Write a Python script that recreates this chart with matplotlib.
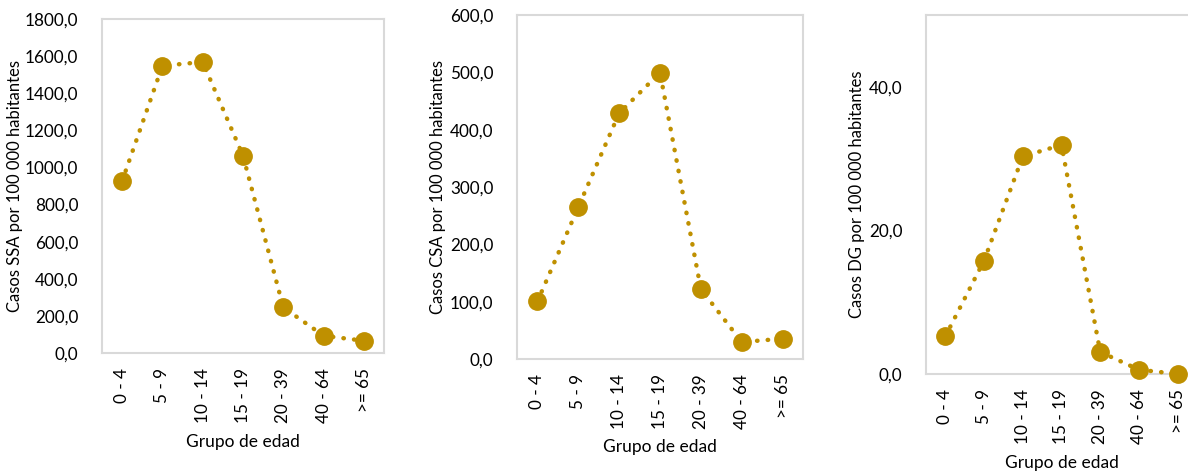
import matplotlib
matplotlib.use("Agg")
import matplotlib.pyplot as plt
from matplotlib.ticker import FuncFormatter, MultipleLocator

plt.rcParams['font.family'] = ['Lato', 'DejaVu Sans']

grupos = ["0 - 4", "5 - 9", "10 - 14", "15 - 19", "20 - 39", "40 - 64", ">= 65"]
ssa = [927, 1548, 1568, 1063, 246, 93, 66]
csa = [100.4, 265, 428.7, 499.5, 122, 29.6, 35.4]
dg = [5.25, 15.8, 30.3, 31.9, 3.07, 0.6, 0.0]

ylabels = ["Casos SSA por 100 000 habitantes",
           "Casos CSA por 100 000 habitantes",
           "Casos DG por 100 000 habitantes"]
ylims = [(0, 1800), (0, 600), (0, 50)]
ysteps = [200, 100, 20]
series = [ssa, csa, dg]

W, H = 1188, 472
# pixel boxes: left, top, right, bottom
boxes = [(102, 19, 384, 353), (517, 15, 803, 359), (926, 15, 1197, 374)]
ylab_x = [15, 438, 857]
xlab_y = [442, 447, 463]

color = "#BF9000"
frame = "#D9D9D9"

fig = plt.figure(figsize=(W / 100, H / 100), dpi=100)
fmt = FuncFormatter(lambda v, p: f"{v:.1f}".replace(".", ","))

for i in range(3):
    l, t, r, b = boxes[i]
    ax = fig.add_axes([l / W, (H - b) / H, (r - l) / W, (b - t) / H])
    x = list(range(len(grupos)))
    ax.plot(x, series[i], linestyle=(0, (0.1, 2.3)), color=color, linewidth=3.2,
            dash_capstyle='round', marker='o', markersize=12.5,
            markerfacecolor=color, markeredgecolor=color, clip_on=False, zorder=3)
    ax.set_xlim(-0.5, len(grupos) - 0.5)
    ax.set_ylim(*ylims[i])
    ax.yaxis.set_major_locator(MultipleLocator(ysteps[i]))
    ax.yaxis.set_major_formatter(fmt)
    ax.set_xticks(x)
    ax.set_xticklabels(grupos, rotation=90)
    ax.tick_params(axis='both', length=0, labelsize=12.3, colors="#000000")
    ax.tick_params(axis='y', pad=17)
    ax.tick_params(axis='x', pad=11)
    for s in ax.spines.values():
        s.set_color(frame)
        s.set_linewidth(1.5)
    ax.set_ylabel(ylabels[i], fontsize=12)
    ax.set_xlabel("Grupo de edad", fontsize=12.5)
    ax.yaxis.set_label_coords((ylab_x[i] - l) / (r - l), 0.5)
    ax.xaxis.set_label_coords(0.5, (b - xlab_y[i]) / (b - t))
    ax.xaxis.label.set_va('center')
    ax.yaxis.label.set_va('center')

fig.savefig("out.png", dpi=100)
